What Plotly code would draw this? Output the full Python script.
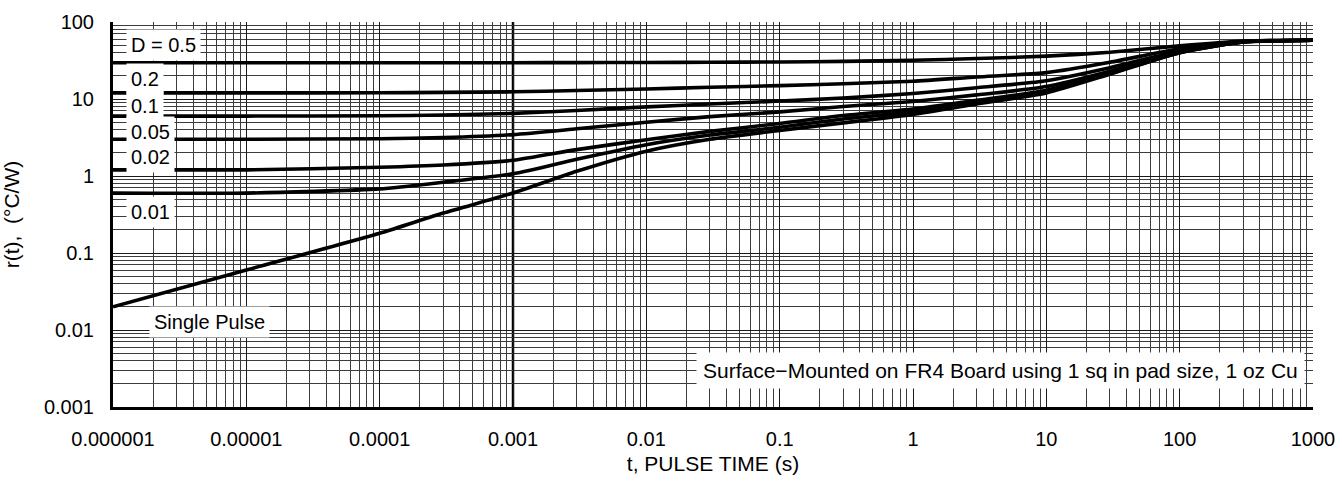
import numpy as np
import plotly.graph_objects as go

# ---------------- data ----------------
t_points = [1e-6, 1e-5, 1e-4, 3e-4, 1e-3, 3e-3, 1e-2, 3e-2, 1e-1, 3e-1,
            1, 3, 10, 30, 100, 300, 1000]

r_d050 = [29.5, 29.5, 29.5, 29.5, 29.6, 29.7, 29.8, 30.0, 30.3, 30.8,
          31.8, 33.5, 36.0, 40.5, 49.0, 56.5, 58.0]
r_d020 = [12.0, 12.0, 12.05, 12.2, 12.4, 12.9, 13.5, 14.2, 14.9, 15.8,
          17.0, 19.3, 22.0, 30.0, 45.0, 56.0, 58.0]
r_d010 = [6.0, 6.0, 6.05, 6.2, 6.5, 7.1, 7.9, 8.6, 9.4, 10.3,
          11.8, 14.0, 17.3, 25.5, 42.0, 55.5, 58.0]
r_d005 = [3.0, 3.0, 3.05, 3.15, 3.45, 4.1, 5.0, 5.9, 6.8, 8.0,
          9.3, 11.3, 14.5, 23.0, 41.0, 55.0, 58.0]
r_d002 = [1.2, 1.2, 1.3, 1.39, 1.6, 2.2, 2.95, 3.8, 4.8, 6.1,
          7.4, 9.6, 13.0, 22.0, 40.5, 55.0, 58.0]
r_d001 = [0.6, 0.6, 0.68, 0.83, 1.07, 1.65, 2.55, 3.4, 4.3, 5.5,
          6.8, 9.1, 12.6, 21.5, 40.0, 55.0, 58.0]
r_single = [0.02, 0.06, 0.18, 0.33, 0.6, 1.15, 2.1, 3.0, 3.9, 4.9,
            6.3, 8.6, 12.0, 21.0, 40.0, 55.0, 58.0]

series = [r_d050, r_d020, r_d010, r_d005, r_d002, r_d001, r_single]
series_names = ["D = 0.5", "0.2", "0.1", "0.05", "0.02", "0.01", "Single Pulse"]

x_tickvals = [1e-6, 1e-5, 1e-4, 1e-3, 1e-2, 1e-1, 1, 10, 100, 1000]
x_ticktext = ["0.000001", "0.00001", "0.0001", "0.001", "0.01", "0.1",
              "1", "10", "100", "1000"]
y_tickvals = [0.001, 0.01, 0.1, 1, 10, 100]
y_ticktext = ["0.001", "0.01", "0.1", "1", "10", "100"]

highlight_t = 1e-3
note_text = "Surface\u2212Mounted on FR4 Board using 1 sq in pad size, 1 oz Cu"

# ---------------- figure ----------------
FONT = "Liberation Sans, Arial, Helvetica, sans-serif"
fig = go.Figure()

for name, vals in zip(series_names, series):
    fig.add_trace(go.Scatter(
        x=t_points, y=vals, mode="lines", name=name,
        line=dict(color="black", width=3.6, shape="spline", smoothing=0.6),
        showlegend=False, hoverinfo="x+y+name"))

fig.add_vline(x=highlight_t, line=dict(color="black", width=2.5), layer="below")

# curve labels (annotation x/y in log10 units for log axes)
label_pos = [
    ("D = 0.5", -5.90, 1.70),
    ("0.2", -5.90, 1.26),
    ("0.1", -5.90, 0.91),
    ("0.05", -5.90, 0.57),
    ("0.02", -5.90, 0.25),
    ("0.01", -5.90, -0.47),
    ("Single Pulse", -5.73, -1.90),
]
for txt, lx, ly in label_pos:
    fig.add_annotation(x=lx, y=ly, xref="x", yref="y", text=txt,
                       showarrow=False, xanchor="left", yanchor="middle",
                       bgcolor="white", borderpad=4,
                       font=dict(family=FONT, size=20, color="black"))

fig.add_annotation(x=0.993, y=0.096, xref="paper", yref="paper",
                   text=note_text, showarrow=False, xanchor="right",
                   yanchor="middle", bgcolor="white", borderpad=6,
                   font=dict(family=FONT, size=21, color="black"))

grid_major = "#1a1a1a"
grid_minor = "#3c3c3c"

fig.update_xaxes(
    type="log", range=[-6, 3], automargin=False,
    tickmode="array", tickvals=x_tickvals, ticktext=x_ticktext,
    showgrid=True, gridcolor=grid_major, gridwidth=1.2,
    minor=dict(dtick="D1", showgrid=True, gridcolor=grid_minor, gridwidth=1),
    showline=True, linecolor="black", linewidth=3,
    ticks="", ticklabelstandoff=12,
    tickfont=dict(family=FONT, size=20, color="black"),
    title=dict(text="t, PULSE TIME (s)", standoff=8,
               font=dict(family=FONT, size=21, color="black")),
    zeroline=False)

fig.update_yaxes(
    type="log", range=[-3, 2], automargin=False,
    tickmode="array", tickvals=y_tickvals, ticktext=y_ticktext,
    showgrid=True, gridcolor=grid_major, gridwidth=1.2,
    minor=dict(dtick="D1", showgrid=True, gridcolor=grid_minor, gridwidth=1),
    showline=True, linecolor="black", linewidth=3,
    ticks="", ticklabelstandoff=12,
    tickfont=dict(family=FONT, size=20, color="black"),
    title=dict(text="r(t),  (\u00b0C/W)", standoff=22,
               font=dict(family=FONT, size=21, color="black")),
    zeroline=False)

fig.update_layout(
    width=1342, height=483,
    margin=dict(l=113, r=29, t=22, b=76),
    paper_bgcolor="white", plot_bgcolor="white",
    font=dict(family=FONT, color="black"),
    showlegend=False)

fig.write_html("out.html",
               config={"displayModeBar": False},
               post_script="document.body.style.margin='0';"
                           "document.body.style.overflow='hidden';")
